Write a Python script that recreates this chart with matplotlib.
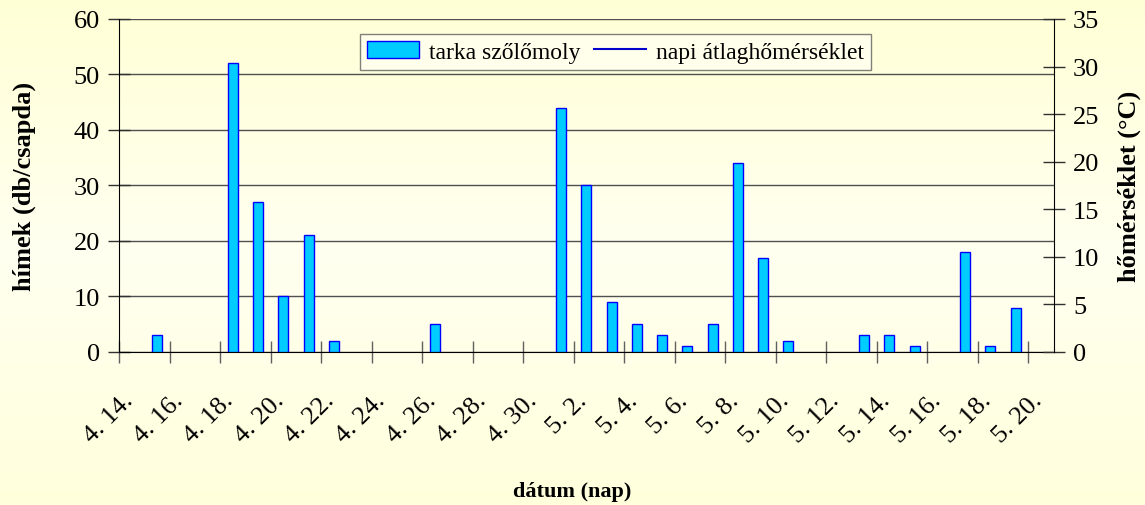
import numpy as np
import matplotlib
matplotlib.use("Agg")
import matplotlib.pyplot as plt
import matplotlib.transforms as mtrans
from matplotlib.lines import Line2D
from matplotlib.patches import Patch

plt.rcParams['font.family'] = ['Liberation Serif', 'DejaVu Serif']

# days from 4.14 to 5.20
dates = [f"4. {d}." for d in range(14, 31)] + [f"5. {d}." for d in range(1, 21)]
# male moth catches (db/csapda), one per day
catches = [0, 3, 0, 0, 52, 27, 10, 21, 2, 0, 0, 0, 5, 0, 0, 0, 0,   # 4.14 - 4.30
           44, 30, 9, 5, 3, 1, 5, 34, 17, 2, 0, 0, 3, 3, 1, 0, 18, 1, 8, 0]  # 5.1 - 5.20
tick_every = 2
bar_label = "tarka szőlőmoly"
line_label = "napi átlaghőmérséklet"

fig = plt.figure(figsize=(11.45, 5.06), dpi=100)

# background gradient
bg = fig.add_axes([0, 0, 1, 1], zorder=-10)
grad = np.linspace(0, 1, 256).reshape(-1, 1)
top = np.array([255, 255, 214]) / 255
mid = np.array([255, 255, 240]) / 255
bot = np.array([255, 255, 220]) / 255
cols = np.where(grad[..., None] < 0.5,
                top + (mid - top) * (grad[..., None] / 0.5),
                mid + (bot - mid) * ((grad[..., None] - 0.5) / 0.5))
bg.imshow(cols, aspect='auto', extent=[0, 1, 0, 1])
bg.axis('off')

ax = fig.add_axes([0.1042, 0.3024, 0.9201 - 0.1042, 0.9605 - 0.3024])
ax.patch.set_alpha(0)
x = np.arange(len(dates)) + 0.5
vals = np.array(catches, dtype=float)
nz = vals > 0
ax.bar(x[nz], vals[nz], width=0.4, color='#00CCFF', edgecolor='#0000FF', linewidth=1.0, zorder=3)
ax.set_xlim(0, len(dates))
ax.set_ylim(0, 60)
ax.set_yticks(range(0, 61, 10))
ax.yaxis.grid(True, color='#505050', linewidth=1.0, zorder=0)
ax.set_axisbelow(True)
ticks = np.arange(0, len(dates), tick_every)
ax.set_xticks(ticks)
ax.set_xticklabels([dates[i] for i in ticks], rotation=45, ha='right', va='center',
                   rotation_mode='anchor', fontsize=19)
ax.tick_params(axis='x', direction='inout', length=16, width=1, color='#606060', pad=20)
offset = mtrans.ScaledTranslation(10 / 100, -6 / 100, fig.dpi_scale_trans)
for lab in ax.get_xticklabels():
    lab.set_transform(lab.get_transform() + offset)
ax.tick_params(axis='y', direction='inout', length=16, width=1, color='#303030', labelsize=19, pad=6)
for s in ['top', 'right']:
    ax.spines[s].set_visible(False)
ax.spines['left'].set_color('black')
ax.spines['bottom'].set_color('black')

ax2 = ax.twinx()
ax2.set_ylim(0, 35)
ax2.set_yticks(range(0, 36, 5))
ax2.tick_params(axis='y', direction='inout', length=16, width=1, color='#303030', labelsize=19, pad=6)
for s in ['top', 'left', 'bottom']:
    ax2.spines[s].set_visible(False)
ax2.spines['right'].set_color('black')

ax.set_ylabel("hímek (db/csapda)", fontsize=19, fontweight='bold', labelpad=27)
ax2.set_ylabel("hőmérséklet (°C)", fontsize=19, fontweight='bold', labelpad=13)
fig.text(0.5, 0.027, "dátum (nap)", ha='center', va='center', fontsize=16, fontweight='bold')

handles = [Patch(facecolor='#00CCFF', edgecolor='#0000FF', label=bar_label),
           Line2D([], [], color='#0000CC', linewidth=1.5, label=line_label)]
leg = ax.legend(handles=handles, loc='upper center', bbox_to_anchor=(0.531, 0.99), ncol=2,
                fontsize=17, frameon=True, fancybox=False, edgecolor='#606060',
                handlelength=2.2, handletextpad=0.4, columnspacing=0.6, borderpad=0.3)
leg.get_frame().set_facecolor('#FFFFF0')
leg.get_frame().set_linewidth(1.0)

fig.savefig("out.png", dpi=100)
